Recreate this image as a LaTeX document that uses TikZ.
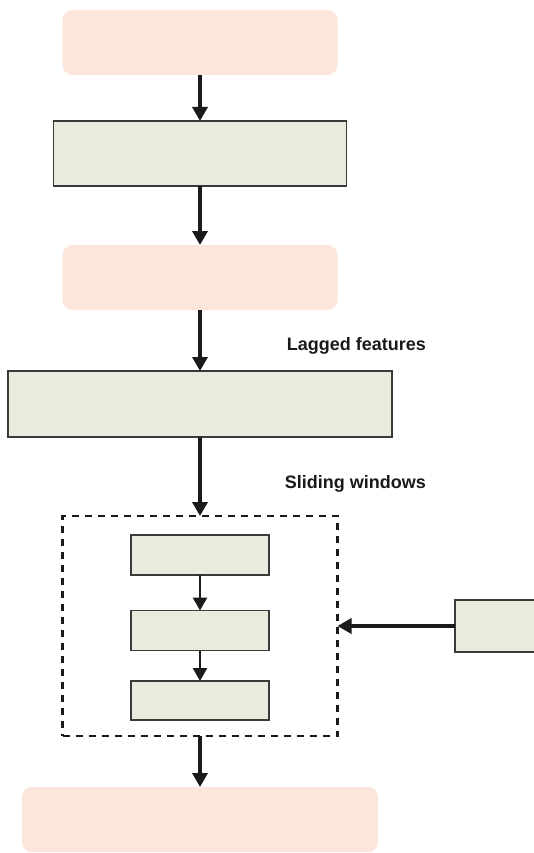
\documentclass[tikz,border=0pt]{standalone}
\usepackage{fontspec}
\setmainfont{Liberation Sans}
\usetikzlibrary{arrows.meta}
\definecolor{peach}{HTML}{FAE6DA}
\definecolor{sage}{HTML}{E8ECDC}
\definecolor{edge}{HTML}{3A3A3A}
\definecolor{ink}{HTML}{1A1A1A}
\tikzset{
  peachbox/.style={fill=peach,draw=none,rounded corners=10pt,inner sep=0pt,outer sep=0pt},
  sagebox/.style={fill=sage,draw=edge,line width=1.3pt,inner sep=0pt,outer sep=0pt},
  groupbox/.style={draw=ink,line width=2.5pt,dash pattern=on 7pt off 6pt,inner sep=0pt,outer sep=0pt},
  bigarrow/.style={draw=ink,line width=4.5pt,-{Triangle[width=15pt,length=14pt]}},
  smallarrow/.style={draw=ink,line width=2.5pt,-{Triangle[width=14pt,length=13pt]}},
  lbl/.style={font=\bfseries\fontsize{18}{20}\selectfont,text=ink,inner sep=0pt}
}
\begin{document}
\begin{tikzpicture}[x=1pt,y=-1pt]
\useasboundingbox (0,0) rectangle (534,853);
\node[peachbox,minimum width=275pt,minimum height=65pt] (b1) at (200,42.5) {};
\node[sagebox,minimum width=293pt,minimum height=65pt] (b2) at (200,153.5) {};
\node[peachbox,minimum width=275pt,minimum height=65pt] (b3) at (200,277.5) {};
\node[sagebox,minimum width=384pt,minimum height=66pt] (b4) at (200,404) {};
\node[groupbox,minimum width=275pt,minimum height=220pt] (g) at (200,626) {};
\node[sagebox,minimum width=138pt,minimum height=40pt] (ia) at (200,555) {};
\node[sagebox,minimum width=138pt,minimum height=40pt] (ib) at (200,630.5) {};
\node[sagebox,minimum width=138pt,minimum height=39pt] (ic) at (200,700.5) {};
\node[sagebox,minimum width=145pt,minimum height=52pt] (r) at (527.5,626) {};
\node[peachbox,minimum width=356pt,minimum height=65pt] (b5) at (200,819.5) {};
\node[lbl,anchor=base east] (t1) at (426,350) {Lagged features};
\node[lbl,anchor=base east] (t2) at (426,488) {Sliding windows};
\draw[bigarrow] (b1.south) -- (b2.north);
\draw[bigarrow] (b2.south) -- (b3.north);
\draw[bigarrow] (b3.south) -- (b4.north);
\draw[bigarrow] (b4.south) -- (g.north);
\draw[smallarrow] (ia.south) -- (ib.north);
\draw[smallarrow] (ib.south) -- (ic.north);
\draw[bigarrow] (r.west) -- (g.east);
\draw[bigarrow] (g.south) -- (b5.north);
\end{tikzpicture}
\end{document}
